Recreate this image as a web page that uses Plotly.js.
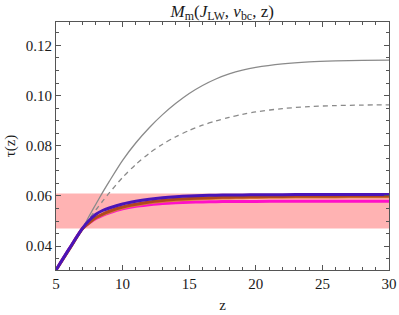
<!DOCTYPE html>
<html>
<head>
<meta charset="utf-8">
<script src="https://cdn.plot.ly/plotly-3.0.1.min.js"></script>
<style>html,body{margin:0;padding:0;background:#fff;}#chart{width:399px;height:315px;}</style>
</head>
<body>
<div id="chart"></div>
<script>
var z = [5, 6, 7, 7.5, 8, 8.5, 9, 10, 11, 12, 13, 14, 15, 16, 17, 18, 19, 20, 22, 24, 26, 28, 30];
var tauGraySolid = [0.0305, 0.0388, 0.0472, 0.0521, 0.0568, 0.0614, 0.0658, 0.0742, 0.0812, 0.0872, 0.0924, 0.0969, 0.1008, 0.1040, 0.1066, 0.1086, 0.1101, 0.1112, 0.1126, 0.1134, 0.1138, 0.1140, 0.1141];
var tauGrayDashed = [0.0305, 0.0388, 0.0472, 0.0510, 0.0545, 0.0579, 0.0612, 0.0674, 0.0726, 0.0770, 0.0806, 0.0836, 0.0861, 0.0882, 0.0899, 0.0913, 0.0925, 0.0935, 0.0948, 0.0956, 0.0960, 0.0962, 0.0963];
var tauBlue = [0.0305, 0.0390, 0.0472, 0.0503, 0.0527, 0.0542, 0.0552, 0.0568, 0.0579, 0.0587, 0.0593, 0.0597, 0.0600, 0.0602, 0.0603, 0.0604, 0.0604, 0.0605, 0.0605, 0.0606, 0.0606, 0.0606, 0.0606];
var tauBrown = [0.0305, 0.0388, 0.0470, 0.0494, 0.0514, 0.0528, 0.0539, 0.0556, 0.0567, 0.0576, 0.0582, 0.0587, 0.0590, 0.0592, 0.0594, 0.0595, 0.0596, 0.0597, 0.0598, 0.0599, 0.0599, 0.0600, 0.0600];
var tauOrange = [0.0305, 0.0388, 0.0470, 0.0492, 0.0512, 0.0525, 0.0535, 0.0552, 0.0563, 0.0572, 0.0578, 0.0582, 0.0585, 0.0588, 0.0590, 0.0591, 0.0592, 0.0593, 0.0594, 0.0595, 0.0595, 0.0596, 0.0596];
var tauMagenta = [0.0305, 0.0390, 0.0471, 0.0492, 0.0510, 0.0523, 0.0533, 0.0549, 0.0559, 0.0565, 0.0570, 0.0573, 0.0575, 0.0576, 0.0577, 0.0578, 0.0578, 0.0578, 0.0579, 0.0579, 0.0579, 0.0579, 0.0579];
var planckBand = [0.047, 0.061];
var xTicks = [5, 10, 15, 20, 25, 30];
var yTicks = [0.04, 0.06, 0.08, 0.10, 0.12];
var yTickLabels = ['0.04', '0.06', '0.08', '0.10', '0.12'];

function tr(y, color, width, dash) {
  return {x: z, y: y, type: 'scatter', mode: 'lines', hoverinfo: 'skip',
          line: {color: color, width: width, dash: dash || 'solid', shape: 'spline', smoothing: 0.8}};
}
var data = [
  tr(tauGraySolid, '#8a8a8a', 1.3),
  tr(tauGrayDashed, '#8a8a8a', 1.3, '5px,4px'),
  tr(tauMagenta, '#ff10c8', 3),
  tr(tauOrange, '#e0803a', 2.5),
  tr(tauBrown, '#b0481e', 3),
  tr(tauBlue, '#4a14b8', 3)
];
var serif = 'Liberation Serif';
var font = {family: serif, size: 15, color: '#1a1a1a'};
var axisCommon = {
  showgrid: false, zeroline: false, showline: true, linecolor: '#555', linewidth: 1,
  mirror: 'ticks', ticks: 'inside', ticklen: 5, tickcolor: '#555', tickwidth: 1,
  tickfont: font, fixedrange: true
};
var layout = {
  width: 399, height: 315,
  margin: {l: 56, r: 10, t: 22, b: 45},
  paper_bgcolor: '#fff', plot_bgcolor: '#fff',
  showlegend: false,
  font: font,
  title: {text: '<i>M</i><sub>m</sub>(<i>J</i><sub>LW</sub>, <i>v</i><sub>bc</sub>, z)',
          font: {family: serif, size: 17, color: '#1a1a1a'},
          x: 0.557, xanchor: 'center', y: 0.985, yanchor: 'top'},
  xaxis: Object.assign({}, axisCommon, {
    range: [5, 30], tickvals: xTicks,
    minor: {dtick: 1, ticklen: 3, tickcolor: '#555', ticks: 'inside'},
    title: {text: 'z', font: {family: serif, size: 15, color: '#1a1a1a'}, standoff: 8}
  }),
  yaxis: Object.assign({}, axisCommon, {
    range: [0.0305, 0.1293], tickvals: yTicks, ticktext: yTickLabels,
    minor: {dtick: 0.005, tick0: 0, ticklen: 3, tickcolor: '#555', ticks: 'inside'},
    title: {text: 'τ(z)', font: {family: serif, size: 15, color: '#1a1a1a'}, standoff: 6}
  }),
  shapes: [{type: 'rect', xref: 'paper', x0: 0, x1: 1, yref: 'y', y0: planckBand[0], y1: planckBand[1],
            fillcolor: '#ffb3b3', line: {width: 0}, layer: 'below'}]
};
Plotly.newPlot('chart', data, layout, {displayModeBar: false, staticPlot: true});
</script>
</body>
</html>
